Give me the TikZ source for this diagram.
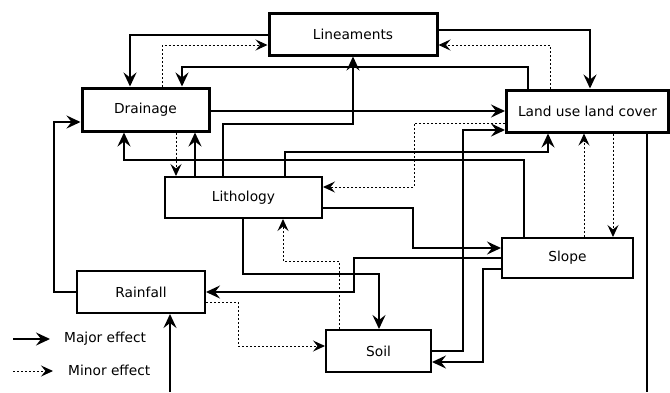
\documentclass[tikz,border=0pt]{standalone}
\usepackage{fontspec}
\setmainfont{DejaVu Sans}
\usetikzlibrary{arrows.meta}
\begin{document}
\begin{tikzpicture}[x=1bp,y=-1bp,
  lbl/.style={font=\fontsize{13.8}{16}\selectfont},
  box/.style={draw, line width=2bp, inner sep=0pt, lbl},
  thickbox/.style={box, line width=3bp},
  major/.style={line width=2bp, -{Stealth[length=14bp,width=13bp,inset=5bp]}},
  minor/.style={line width=1bp, dash pattern=on 2bp off 2bp, -{Stealth[length=12bp,width=11bp,inset=4.5bp]}},
  plainline/.style={line width=2bp}]
\useasboundingbox (0,0) rectangle (670,392);
% boxes
\node[thickbox, minimum width=168bp, minimum height=42bp] (lin) at (353,34) {Lineaments};
\node[thickbox, minimum width=127bp, minimum height=43bp] (dr) at (145.5,109.5) {Drainage};
\node[thickbox, minimum width=162bp, minimum height=42bp] (lu) at (587.5,111) {Land use land cover};
\node[box, minimum width=157bp, minimum height=41bp] (li) at (243.5,197.5) {Lithology};
\node[box, minimum width=128bp, minimum height=42bp] (ra) at (141,292) {Rainfall};
\node[box, minimum width=131bp, minimum height=40bp] (sl) at (567.5,258) {Slope};
\node[box, minimum width=105bp, minimum height=42bp] (so) at (378.5,351) {Soil};
% connectors
\draw[major] (lin.west |- 0,35) -| (130,0 |- dr.north);
\draw[minor] (162,0 |- dr.north) |- (lin.west |- 0,45);
\draw[major] (528,0 |- lu.north) |- (182,67) -- (182,0 |- dr.north);
\draw[major] (lin.east |- 0,30) -| (590,0 |- lu.north);
\draw[minor] (550,0 |- lu.north) |- (lin.east |- 0,45);
\draw[major] (dr.east |- 0,111) -- (lu.west |- 0,111);
\draw[major] (223,0 |- li.north) |- (353,124) -- (353,0 |- lin.south);
\draw[major] (195,0 |- li.north) -- (195,0 |- dr.south);
\draw[minor] (176,0 |- dr.south) -- (176,0 |- li.north);
\draw[major] (524,0 |- sl.north) |- (124,160) -- (124,0 |- dr.south);
\draw[major] (285,0 |- li.north) |- (548,152) -- (548,0 |- lu.south);
\draw[minor] (lu.west |- 0,123) -| (414,187) -- (li.east |- 0,187);
\draw[major] (so.east |- 0,351) -| (463,130) -- (lu.west |- 0,130);
\draw[major] (li.east |- 0,208) -| (413,248) -- (sl.west |- 0,248);
\draw[major] (sl.west |- 0,258) -| (354,292) -- (ra.east |- 0,292);
\draw[major] (243,0 |- li.south) |- (379,274) -- (379,0 |- so.north);
\draw[minor] (339,0 |- so.north) |- (283,261) -- (283,0 |- li.south);
\draw[minor] (ra.east |- 0,302) -| (238,346) -- (so.west |- 0,346);
\draw[major] (sl.west |- 0,269) -| (483,362) -- (so.east |- 0,362);
\draw[major] (ra.west |- 0,292) -| (54,122) -- (dr.west |- 0,122);
\coordinate (b1) at (170,392);
\draw[major] (b1) -- (170,0 |- ra.south);
\coordinate (b2) at (647,392);
\draw[plainline] (647,0 |- lu.south) -- (b2);
\draw[minor] (584,0 |- sl.north) -- (584,0 |- lu.south);
\draw[minor] (613,0 |- lu.south) -- (613,0 |- sl.north);
% legend
\coordinate (m1) at (13,339);
\coordinate (m2) at (50,339);
\draw[major] (m1) -- (m2);
\node[lbl, anchor=west, inner sep=0pt] (mt) at (64,339) {Major effect};
\coordinate (n1) at (13,371);
\coordinate (n2) at (53,371);
\draw[minor] (n1) -- (n2);
\node[lbl, anchor=west, inner sep=0pt] (nt) at (68,370) {Minor effect};
\end{tikzpicture}
\end{document}
